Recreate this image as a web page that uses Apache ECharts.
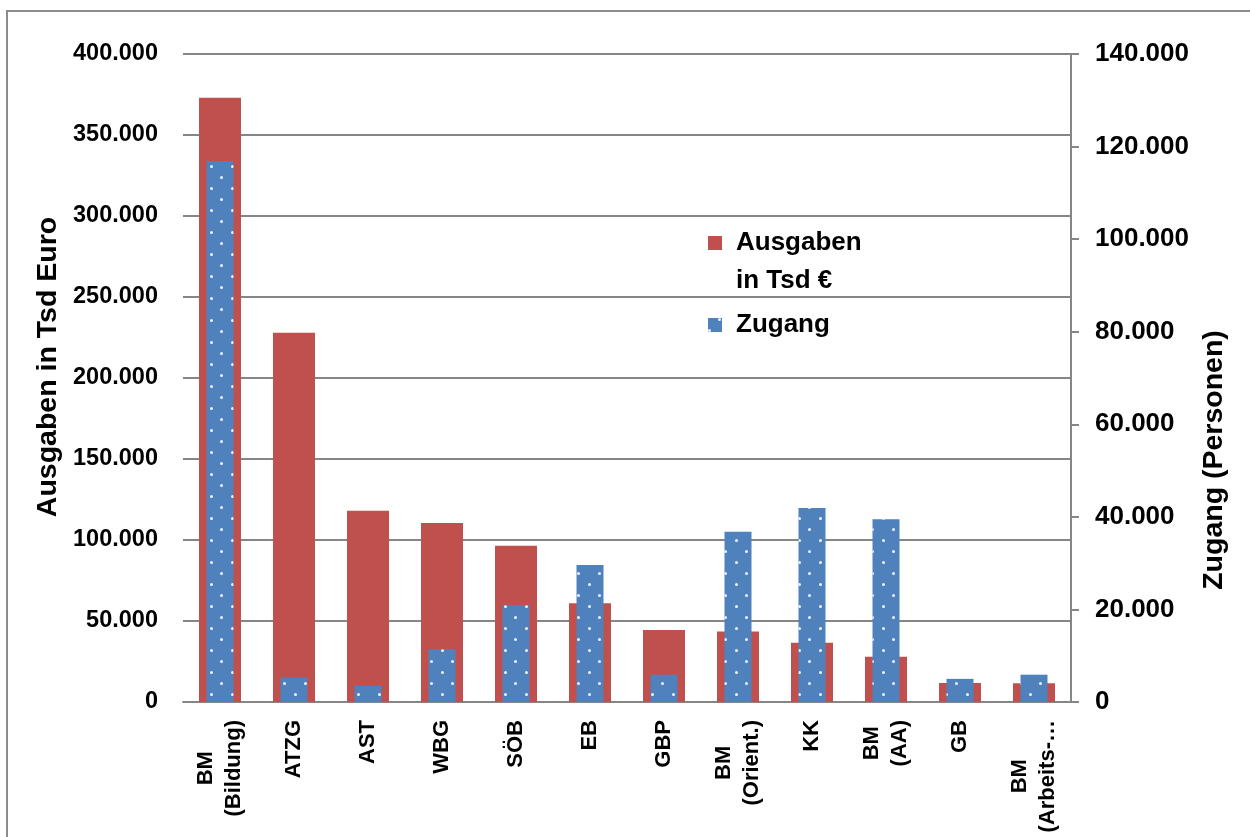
<!DOCTYPE html>
<html>
<head>
<meta charset="utf-8">
<script src="https://cdn.jsdelivr.net/npm/echarts@6/dist/echarts.min.js"></script>
<style>
  html, body { margin: 0; padding: 0; background: #fff; }
  #chart { width: 1250px; height: 837px; }
</style>
</head>
<body>
<div id="chart"></div>
<script>
// Programme categories (x axis)
const categories = [
  'BM\n(Bildung)', 'ATZG', 'AST', 'WBG', 'SÖB', 'EB', 'GBP',
  'BM\n(Orient.)', 'KK', 'BM\n(AA)', 'GB', 'BM\n(Arbeits-…'
];
// Expenditure in thousand euro (left axis)
const ausgaben = [373000, 228000, 118000, 110500, 96500, 61000, 44500, 43500, 36500, 28000, 11800, 11500];
// Entries, persons (right axis)
const zugang = [116900, 5300, 3500, 11400, 20900, 29600, 5900, 36800, 41900, 39500, 5000, 5900];

const leftTicks = { min: 0, max: 400000, interval: 50000 };
const rightTicks = { min: 0, max: 140000, interval: 20000 };

function fmt(v) {
  return String(v).replace(/\B(?=(\d{3})+(?!\d))/g, '.');
}

const RED = '#C0504D';
const BLUE = '#4F81BD';
const GRID_GRAY = '#868686';
const SANS = '"Liberation Sans", Arial, sans-serif';

const chart = echarts.init(document.getElementById('chart'));

chart.setOption({
  backgroundColor: '#fff',
  animation: false,
  graphic: [{
    type: 'rect',
    shape: { x: 7, y: 11, width: 1400, height: 1000 },
    style: { fill: null, stroke: '#8c8c8c', lineWidth: 2 },
    silent: true
  }],
  grid: { left: 183, right: 179, top: 54, bottom: 135 },
  legend: {
    orient: 'vertical',
    left: 708,
    top: 186,
    padding: 0,
    itemGap: 6,
    itemWidth: 14,
    itemHeight: 14,
    icon: 'rect',
    selectedMode: false,
    data: ['Ausgaben', 'Zugang'],
    formatter: function (name) {
      return name === 'Ausgaben' ? '\nAusgaben\nin Tsd €' : 'Zugang';
    },
    textStyle: {
      fontFamily: SANS, fontWeight: 'bold', fontSize: 26,
      lineHeight: 38, color: '#000', padding: [0, 0, 0, 9]
    }
  },
  xAxis: [{
    type: 'category',
    data: categories,
    gridIndex: 0,
    axisLine: { show: true, lineStyle: { color: GRID_GRAY, width: 2 } },
    axisTick: { show: false },
    axisLabel: {
      interval: 0,
      rotate: 90,
      margin: 18,
      color: '#000',
      fontFamily: SANS,
      fontWeight: 'bold',
      fontSize: 22,
      lineHeight: 28,
      formatter: function (v) {
        return v.split('\n').map(function (s) { return '{c|' + s + '}'; }).join('\n');
      },
      rich: {
        c: {
          align: 'center',
          fontFamily: SANS,
          fontWeight: 'bold', fontSize: 22, lineHeight: 28, color: '#000'
        }
      }
    }
  }, {
    type: 'category',
    data: categories,
    gridIndex: 0,
    show: false
  }],
  yAxis: [{
    type: 'value',
    min: leftTicks.min, max: leftTicks.max, interval: leftTicks.interval,
    name: 'Ausgaben in Tsd Euro',
    nameLocation: 'middle',
    nameGap: 120,
    nameRotate: 90,
    nameTextStyle: {
      fontFamily: SANS, fontWeight: 'bold', fontSize: 28.5, color: '#000',
      padding: [0, 0, 0, 22]
    },
    axisLine: { show: false },
    axisTick: { show: false },
    splitLine: { show: true, lineStyle: { color: GRID_GRAY, width: 2 } },
    axisLabel: {
      margin: 25, color: '#000', fontFamily: SANS, fontWeight: 'bold', fontSize: 23.5,
      formatter: fmt
    }
  }, {
    type: 'value',
    position: 'right',
    min: rightTicks.min, max: rightTicks.max, interval: rightTicks.interval,
    name: 'Zugang (Personen)',
    nameLocation: 'middle',
    nameGap: 124,
    nameRotate: 90,
    nameTextStyle: {
      fontFamily: SANS, fontWeight: 'bold', fontSize: 28.5, color: '#000',
      padding: [0, 164, 0, 0]
    },
    axisLine: { show: true, lineStyle: { color: GRID_GRAY, width: 2 } },
    axisTick: { show: true, inside: false, length: 8, lineStyle: { color: GRID_GRAY, width: 2 } },
    splitLine: { show: false },
    axisLabel: {
      margin: 24, color: '#000', fontFamily: SANS, fontWeight: 'bold', fontSize: 26,
      formatter: fmt
    }
  }],
  series: [{
    name: 'Ausgaben',
    type: 'bar',
    xAxisIndex: 0,
    yAxisIndex: 0,
    barWidth: 42,
    data: ausgaben,
    itemStyle: { color: RED }
  }, {
    name: 'Zugang',
    type: 'bar',
    xAxisIndex: 1,
    yAxisIndex: 1,
    barWidth: 27,
    data: zugang,
    itemStyle: {
      color: BLUE,
      decal: {
        symbol: 'circle',
        symbolSize: 1,
        color: 'rgba(255,255,255,0.9)',
        dashArrayX: [[3, 18], [0, 10, 3, 8]],
        dashArrayY: [3, 8],
        rotation: 0
      }
    },
    z: 3
  }]
});
</script>
</body>
</html>
